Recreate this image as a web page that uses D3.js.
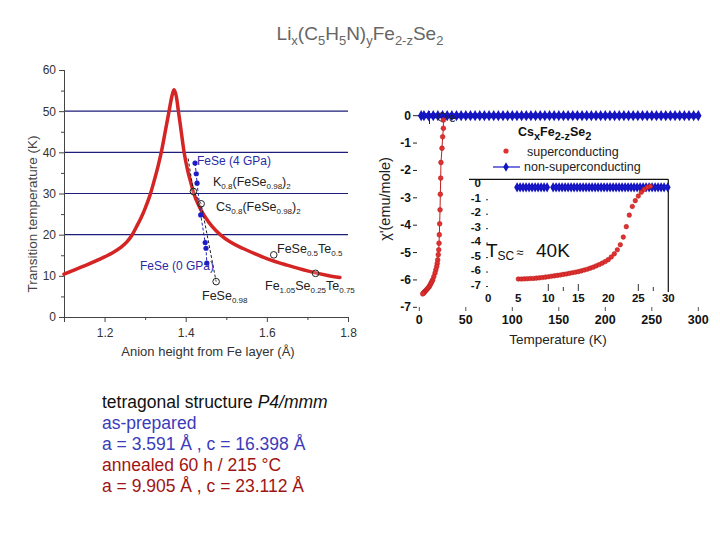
<!DOCTYPE html>
<html><head><meta charset="utf-8">
<script src="https://cdn.jsdelivr.net/npm/d3@7"></script>
<style>body{margin:0;background:#fff}svg{display:block}</style>
</head><body>
<script>
// ---------- DATA ----------
// Left plot: Tc vs anion height
const tcCurveX = [1.10,1.15,1.20,1.22,1.24,1.255,1.267,1.278,1.29,1.30,1.312,1.322,1.332,1.341,1.35,1.359,1.365,1.371,1.377,1.382,1.389,1.396,1.405,1.413,1.420,1.435,1.45,1.465,1.485,1.51,1.54,1.57,1.60,1.65,1.70,1.75,1.78];
const tcCurveY = [10.4,12.4,14.6,15.6,16.9,18.25,19.8,21.8,24.1,26.4,29.6,33.0,36.7,40.6,45.3,50.0,53.2,55.2,53.5,50.0,45.0,40.0,35.5,32.5,30.0,26.5,24.0,22.0,20.0,18.2,16.7,15.4,14.2,12.6,11.2,10.1,9.6];
const compoundNames = ["K","Cs","FeSe0.5Te0.5","Fe1.05Se0.25Te0.75","FeSe0.98"];
const compoundX = [1.419,1.438,1.617,1.720,1.475];
const compoundTc = [30.5,27.5,15.1,10.6,8.6];
const blackLineX = [1.406,1.419,1.438,1.475];
const blackLineY = [38.5,30.5,27.5,8.6];
const fesePressureX = [1.423,1.426,1.428,1.437,1.448,1.450,1.452];
const fesePressureTc = [37.4,34.8,32.5,24.8,18.1,16.7,13.1];
const leftYTicks = [0,10,20,30,40,50,60];
const leftXTicks = [1.2,1.4,1.6,1.8];
const gridValues = [20,30,40,50];

// Right plot: susceptibility vs temperature
const scMainT = [25.9,25.9,25.1,24.4,23.3,23.0,22.6,22.3,21.9,21.5,21.2,20.9,20.4,19.8,19.3,18.7,17.8,16.9,15.6,14.4,13.5,12.6,11.7,10.8,9.6,8.5,7.3,6.1,5.2,4.5,3.7];
const scMainChi = [-0.16,-0.46,-0.77,-1.19,-1.71,-2.28,-2.87,-3.44,-3.95,-4.35,-4.66,-4.90,-5.08,-5.27,-5.40,-5.51,-5.63,-5.75,-5.88,-6.00,-6.06,-6.12,-6.18,-6.24,-6.29,-6.33,-6.38,-6.42,-6.45,-6.48,-6.51];
const nscMainT = [2,5,10,15,20,25,30,35,40,45,50,55,60,65,70,75,80,85,90,95,100,105,110,115,120,125,130,135,140,145,150,155,160,165,170,175,180,185,190,195,200,205,210,215,220,225,230,235,240,245,250,255,260,265,270,275,280,285,290,295,300];
const nscMainChi = 0.0;
const scInsetT = [5.0,5.5,6.0,6.5,7.0,7.5,8.0,8.5,9.0,9.5,10.0,10.5,11.0,11.5,12.0,12.5,13.0,13.5,14.0,14.5,15.0,15.5,16.0,16.5,17.0,17.5,18.0,18.5,19.0,19.5,20.0,20.5,21.0,21.5,22.0,22.5,23.0,23.5,24.0,24.5,25.0,25.5,26.0,26.5,27.0];
const scInsetChi = [-6.62,-6.62,-6.61,-6.60,-6.59,-6.58,-6.56,-6.54,-6.52,-6.49,-6.46,-6.43,-6.40,-6.37,-6.34,-6.30,-6.27,-6.23,-6.19,-6.15,-6.11,-6.06,-6.00,-5.94,-5.87,-5.80,-5.71,-5.62,-5.52,-5.41,-5.28,-5.10,-4.88,-4.60,-4.25,-3.72,-3.00,-2.20,-1.60,-1.20,-0.88,-0.62,-0.42,-0.28,-0.20];
const nscInsetT = [4.8,5.3,5.8,6.3,6.8,7.3,7.8,8.3,8.8,9.3,9.8,10.8,11.3,11.8,12.3,12.8,13.3,13.8,14.3,14.8,15.3,15.8,16.3,16.8,17.3,17.8,18.3,18.8,19.3,19.8,20.3,20.8,21.3,21.8,22.3,22.8,23.3,23.8,24.3,24.8,25.3,25.8,26.3,26.8,27.3,27.8,28.3,28.8,29.3,29.9];
const nscInsetChi = -0.28;
const mainXTicks = [0,50,100,150,200,250,300];
const mainYTicks = [0,-1,-2,-3,-4,-5,-6,-7];
const insetXTicks = [0,5,10,15,20,25,30];
const insetYTicks = [0,-1,-2,-3,-4,-5,-6,-7];

// ---------- DRAW ----------
const svg = d3.select("body").append("svg").attr("width",720).attr("height",540);
svg.append("rect").attr("width",720).attr("height",540).attr("fill","#fff");
const ARIAL = "Liberation Sans, Arial, sans-serif";
const NARROW = "Liberation Sans Narrow, Arial Narrow, Liberation Sans, sans-serif";

function rich(g, x, y, parts, size, subSize, subDy, opts = {}) {
  const t = g.append("text").attr("x", x).attr("y", y)
    .attr("font-family", opts.family || ARIAL).attr("font-size", size)
    .attr("fill", opts.fill || "#222").attr("font-weight", opts.weight || "normal")
    .attr("text-anchor", opts.anchor || "start");
  let prev = 0;
  parts.forEach(([s, sub]) => {
    const dy = (sub ? subDy : 0) - prev;
    t.append("tspan").attr("dy", dy).attr("font-size", sub ? subSize : size).text(s);
    prev = sub ? subDy : 0;
  });
  return t;
}

// Title
rich(svg, 360, 40, [["Li",0],["x",1],["(C",0],["5",1],["H",0],["5",1],["N)",0],["y",1],["Fe",0],["2-z",1],["Se",0],["2",1]], 19, 13, 5, {fill:"#666", anchor:"middle"});

// ---- Left plot ----
const xL = d3.scaleLinear().domain([1.1,1.8]).range([64,348]);
const yL = d3.scaleLinear().domain([0,60]).range([317,70]);
const gL = svg.append("g");
gL.selectAll("line.grid").data(gridValues).join("line")
  .attr("x1", xL(1.1)).attr("x2", xL(1.8)).attr("y1", d=>yL(d)).attr("y2", d=>yL(d))
  .attr("stroke","#1c1c7a").attr("stroke-width",1.1);
const axL = gL.append("g").attr("transform",`translate(${xL(1.1)},0)`)
  .call(d3.axisLeft(yL).tickValues(leftYTicks).tickSize(5).tickFormat(d3.format("d")));
const axLm = gL.append("g").attr("transform",`translate(${xL(1.1)},0)`)
  .call(d3.axisLeft(yL).tickValues([5,15,25,35,45,55]).tickSize(3).tickFormat(""));
const axB = gL.append("g").attr("transform",`translate(0,${yL(0)})`)
  .call(d3.axisBottom(xL).tickValues(leftXTicks).tickSize(5).tickFormat(d3.format(".1f")));
const axBm = gL.append("g").attr("transform",`translate(0,${yL(0)})`)
  .call(d3.axisBottom(xL).tickValues([1.1,1.3,1.5,1.7]).tickSize(3).tickFormat(""));
[axL,axLm,axB,axBm].forEach(a=>{
  a.select(".domain").attr("stroke","#444");
  a.selectAll(".tick line").attr("stroke","#444");
  a.selectAll("text").attr("font-family",NARROW).attr("font-size",12).attr("fill","#333");
});
axB.selectAll("text").attr("dy","1.0em");
gL.append("text").attr("transform","translate(37,214) rotate(-90)").attr("text-anchor","middle")
  .attr("font-family",NARROW).attr("font-size",13.5).attr("fill","#444").text("Transition temperature (K)");
gL.append("text").attr("x",208).attr("y",356).attr("text-anchor","middle")
  .attr("font-family",NARROW).attr("font-size",13).attr("fill","#333").text("Anion height from Fe layer (Å)");

// red curve
const curvePts = tcCurveX.map((x,i)=>[x,tcCurveY[i]]);
gL.append("path").attr("d", d3.line().x(d=>xL(d[0])).y(d=>yL(d[1])).curve(d3.curveMonotoneX)(curvePts))
  .attr("fill","none").attr("stroke","#d42424").attr("stroke-width",3.5).attr("stroke-linecap","round").attr("stroke-linejoin","round");
// black dashed
gL.append("path").attr("d", d3.line().x(d=>xL(d[0])).y(d=>yL(d[1]))(blackLineX.map((x,i)=>[x,blackLineY[i]])))
  .attr("fill","none").attr("stroke","#222").attr("stroke-width",1).attr("stroke-dasharray","3,2");
// blue dashed + points
const bp = fesePressureX.map((x,i)=>[x,fesePressureTc[i]]);
gL.append("path").attr("d", d3.line().x(d=>xL(d[0])).y(d=>yL(d[1]))(bp))
  .attr("fill","none").attr("stroke","#2020b0").attr("stroke-width",1).attr("stroke-dasharray","3,2");
gL.selectAll("circle.bp").data(bp).join("circle").attr("cx",d=>xL(d[0])).attr("cy",d=>yL(d[1])).attr("r",2.6).attr("fill","#1c1cc8");
// open circles
gL.selectAll("circle.cp").data(compoundX).join("circle").attr("cx",d=>xL(d)).attr("cy",(d,i)=>yL(compoundTc[i])).attr("r",3.3)
  .attr("fill","#fff").attr("fill-opacity",0.2).attr("stroke","#222").attr("stroke-width",1);
// labels
gL.append("text").attr("x",197).attr("y",165).attr("font-family",ARIAL).attr("font-size",12).attr("fill","#2a2aa8").text("FeSe (4 GPa)");
gL.append("text").attr("x",140).attr("y",270).attr("font-family",ARIAL).attr("font-size",12).attr("fill","#2a2aa8").text("FeSe (0 GPa)");
rich(gL, 213, 186, [["K",0],["0.8",1],["(FeSe",0],["0.98",1],[")",0],["2",1]], 12.5, 8, 3);
rich(gL, 216, 211, [["Cs",0],["0.8",1],["(FeSe",0],["0.98",1],[")",0],["2",1]], 12.5, 8, 3);
rich(gL, 277, 253, [["FeSe",0],["0.5",1],["Te",0],["0.5",1]], 12.5, 8, 3);
rich(gL, 265, 290, [["Fe",0],["1.05",1],["Se",0],["0.25",1],["Te",0],["0.75",1]], 12.5, 8, 3);
rich(gL, 202, 300, [["FeSe",0],["0.98",1]], 12.5, 8, 3);

// ---- Right main plot ----
const xM = d3.scaleLinear().domain([0,300]).range([419.3,698.3]);
const yM = d3.scaleLinear().domain([-7,0]).range([307.3,115.7]);
const gR = svg.append("g");
gR.selectAll("line.yt").data(mainYTicks).join("line").attr("x1",413).attr("x2",417).attr("y1",d=>yM(d)).attr("y2",d=>yM(d)).attr("stroke","#222");
gR.selectAll("text.yl").data(mainYTicks).join("text").attr("x",411).attr("y",d=>yM(d)+4).attr("text-anchor","end")
  .attr("font-family",ARIAL).attr("font-weight","bold").attr("font-size",12).attr("fill","#111").text(d=>d===0?"0":d);
gR.selectAll("line.xt").data(mainXTicks).join("line").attr("x1",d=>xM(d)).attr("x2",d=>xM(d)).attr("y1",307).attr("y2",311).attr("stroke","#555");
gR.selectAll("text.xl").data(mainXTicks).join("text").attr("x",d=>xM(d)).attr("y",324).attr("text-anchor","middle")
  .attr("font-family",ARIAL).attr("font-weight","bold").attr("font-size",12.5).attr("fill","#111").text(d=>d);
gR.append("text").attr("x",558).attr("y",344).attr("text-anchor","middle").attr("font-family",ARIAL).attr("font-size",13.5).attr("fill","#222").text("Temperature (K)");
gR.append("text").attr("transform","translate(390,199) rotate(-90)").attr("text-anchor","middle")
  .attr("font-family",ARIAL).attr("font-size",14.5).attr("fill","#222").text("χ'(emu/mole)");
gR.append("line").attr("x1",417).attr("x2",432).attr("y1",yM(0)).attr("y2",yM(0)).attr("stroke","#222");
gR.append("line").attr("x1",429.5).attr("x2",429.5).attr("y1",111).attr("y2",124).attr("stroke","#222");
const nscMain = nscMainT.map(t=>[t,nscMainChi]);
gR.append("path").attr("d", d3.line().x(d=>xM(d[0])).y(d=>yM(d[1]))(nscMain)).attr("stroke","#1818c8").attr("stroke-width",5).attr("fill","none");
gR.selectAll("path.nd").data(nscMain).join("path").attr("transform",d=>`translate(${xM(d[0])},${yM(d[1])})`)
  .attr("d", d3.symbol(d3.symbolDiamond, 36)).attr("fill","#1414c0");
gR.append("circle").attr("cx",442).attr("cy",117).attr("r",4.2).attr("fill","none").attr("stroke","#222");
gR.append("text").attr("x",449).attr("y",122).attr("font-family",ARIAL).attr("font-size",12).attr("fill","#222").text("e");
const scMain = scMainT.map((t,i)=>[t,scMainChi[i]]);
gR.append("path").attr("d", d3.line().x(d=>xM(d[0])).y(d=>yM(d[1]))(scMain)).attr("stroke","#c02020").attr("stroke-width",1).attr("fill","none");
gR.selectAll("circle.sm").data(scMain).join("circle").attr("cx",d=>xM(d[0])).attr("cy",d=>yM(d[1])).attr("r",2.4)
  .attr("fill","#e03030").attr("stroke","#b01818").attr("stroke-width",0.5);

// legend
rich(gR, 518, 136, [["Cs",0],["x",1],["Fe",0],["2-z",1],["Se",0],["2",1]], 12.5, 11, 4, {weight:"bold", fill:"#111"});
gR.append("circle").attr("cx",506).attr("cy",151).attr("r",2.6).attr("fill","#e03030");
gR.append("text").attr("x",527).attr("y",156).attr("font-family",ARIAL).attr("font-size",12.5).attr("fill","#222").text("superconducting");
gR.append("line").attr("x1",493).attr("x2",520).attr("y1",167).attr("y2",167).attr("stroke","#1818c8").attr("stroke-width",1.2);
gR.append("path").attr("transform","translate(506,167)").attr("d", d3.symbol(d3.symbolDiamond, 26)).attr("fill","#1414c0");
gR.append("text").attr("x",524).attr("y",171).attr("font-family",ARIAL).attr("font-size",12.5).attr("fill","#222").text("non-superconducting");

// ---- Inset ----
const xI = d3.scaleLinear().domain([0,30]).range([488.3,668.3]);
const yI = d3.scaleLinear().domain([-7,0]).range([284.5,183.3]);
const gI = svg.append("g");
gI.append("line").attr("x1",469).attr("x2",668.3).attr("y1",179.3).attr("y2",179.3).attr("stroke","#111").attr("stroke-width",1.2);
gI.append("line").attr("x1",668.3).attr("x2",668.3).attr("y1",179.3).attr("y2",292).attr("stroke","#111").attr("stroke-width",1.2);
gI.selectAll("text.iy").data(insetYTicks).join("text").attr("x",481).attr("y",d=>yI(d)+4).attr("text-anchor","end")
  .attr("font-family",ARIAL).attr("font-weight","bold").attr("font-size",11.5).attr("fill","#111").text(d=>d===0?"0":d);
gI.selectAll("line.iyt").data(insetYTicks.slice(1)).join("line").attr("x1",486).attr("x2",488).attr("y1",d=>yI(d)+2).attr("y2",d=>yI(d)+2).attr("stroke","#333");
gI.selectAll("text.ix").data(insetXTicks).join("text").attr("x",d=>xI(d)).attr("y",302).attr("text-anchor","middle")
  .attr("font-family",ARIAL).attr("font-weight","bold").attr("font-size",11.5).attr("fill","#111").text(d=>d);
gI.selectAll("line.ixt").data([10,15,25]).join("line").attr("x1",d=>xI(d)).attr("x2",d=>xI(d)).attr("y1",284).attr("y2",291).attr("stroke","#333");
gI.selectAll("line.ixm").data([12.5,27.5]).join("line").attr("x1",d=>xI(d)).attr("x2",d=>xI(d)).attr("y1",287).attr("y2",291).attr("stroke","#333");
const nscIn = nscInsetT.map(t=>[t,nscInsetChi]);
gI.selectAll("path.ind").data(nscIn).join("path").attr("transform",d=>`translate(${xI(d[0])},${yI(d[1])})`)
  .attr("d", d3.symbol(d3.symbolDiamond, 30)).attr("fill","#1414c0");
gI.append("path").attr("d", d3.line().x(d=>xI(d[0])).y(d=>yI(d[1]))(nscIn.slice(0,11))).attr("stroke","#1818c8").attr("stroke-width",2.5);
gI.append("path").attr("d", d3.line().x(d=>xI(d[0])).y(d=>yI(d[1]))(nscIn.slice(11))).attr("stroke","#1818c8").attr("stroke-width",2.5);
const scIn = scInsetT.map((t,i)=>[t,scInsetChi[i]]);
gI.selectAll("circle.si").data(scIn).join("circle").attr("cx",d=>xI(d[0])).attr("cy",d=>yI(d[1])).attr("r",2.3)
  .attr("fill","#e03030").attr("stroke","#b01818").attr("stroke-width",0.5);
const ts = gI.append("text").attr("x",486).attr("y",257).attr("font-family",ARIAL).attr("fill","#111");
ts.append("tspan").attr("font-size",19).text("T");
ts.append("tspan").attr("font-size",12).attr("dy",3).text("SC");
ts.append("tspan").attr("font-size",13).attr("dy",-3).attr("dx",2).text("≈");
ts.append("tspan").attr("font-size",19).attr("x",536).text("40K");

// ---- Bottom text block ----
const gT = svg.append("g").attr("font-family",ARIAL).attr("font-size",17.5);
const t1 = gT.append("text").attr("x",102).attr("y",408).attr("fill","#111");
t1.append("tspan").text("tetragonal structure ");
t1.append("tspan").attr("font-style","italic").text("P4/mmm");
gT.append("text").attr("x",102).attr("y",429).attr("fill","#3b3bbb").text("as-prepared");
gT.append("text").attr("x",102).attr("y",450).attr("fill","#3b3bbb").text("a = 3.591 Å , c = 16.398 Å");
gT.append("text").attr("x",102).attr("y",471).attr("fill","#a01414").text("annealed 60 h / 215 °C");
gT.append("text").attr("x",102).attr("y",492).attr("fill","#a01414").text("a = 9.905 Å , c = 23.112 Å");
</script>
</body></html>
